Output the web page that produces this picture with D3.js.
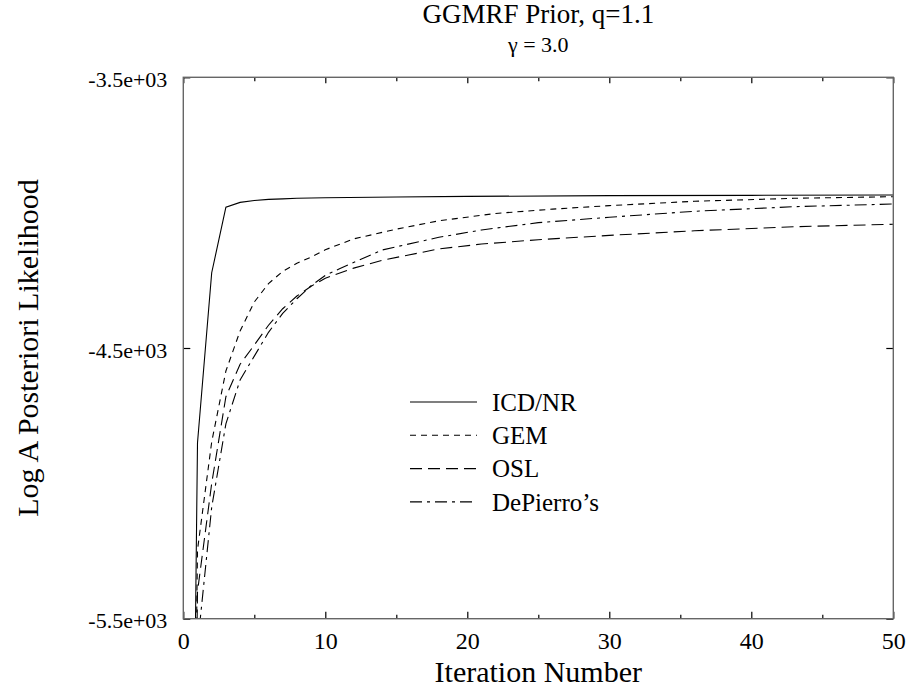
<!DOCTYPE html>
<html>
<head>
<meta charset="utf-8">
<script src="https://cdn.jsdelivr.net/npm/d3@7"></script>
<style>
  body { margin: 0; background: #fff; }
  svg text { font-family: "Liberation Serif", "Times New Roman", Times, serif; fill: #000; }
</style>
</head>
<body>
<svg id="chart"></svg>
<script>
// data (iteration, log posterior likelihood)
const icdIter   = [0, 1, 2, 3, 4, 5, 6, 7, 8, 10, 15, 20, 30, 40, 50];
const icdVal    = [-9500, -4850, -4222, -3980, -3962, -3955, -3951, -3949, -3947, -3945, -3942, -3940, -3937, -3936, -3935];

const gemIter   = [0, 1, 2, 3, 4, 5, 6, 7, 8, 9, 10, 12, 15, 18, 22, 26, 30, 36, 43, 50];
const gemVal    = [-9500, -5246, -4847, -4585, -4437, -4330, -4262, -4217, -4187, -4164, -4137, -4097, -4061, -4030, -4003, -3987, -3974, -3958, -3947, -3941];

const oslIter   = [0, 1, 2, 3, 4, 5, 6, 7, 8, 9, 10, 12, 14, 18, 21, 25, 30, 36, 43, 50];
const oslVal    = [-9500, -5400, -5000, -4680, -4560, -4489, -4416, -4355, -4308, -4272, -4242, -4205, -4176, -4134, -4116, -4100, -4084, -4067, -4052, -4043];

const depIter   = [0, 1, 2, 3, 4, 5, 6, 7, 8, 9, 10, 11, 14, 18, 21, 25, 30, 36, 43, 50];
const depVal    = [-9500, -5600, -5088, -4780, -4618, -4530, -4442, -4372, -4318, -4270, -4232, -4207, -4138, -4091, -4064, -4037, -4017, -3995, -3978, -3968];

const seriesNames = ["ICD/NR", "GEM", "OSL", "DePierro\u2019s"];
const xMajorTicks = [0, 10, 20, 30, 40, 50];
const xMinorTicks = [5, 15, 25, 35, 45];
const yTicks      = [-5500, -4500, -3500];
const yTickLabels = ["-5.5e+03", "-4.5e+03", "-3.5e+03"];

const W = 908, H = 692;
const margin = {left: 183.3, top: 77.3, right: 14.7, bottom: 73.3};
const iw = W - margin.left - margin.right;
const ih = H - margin.top - margin.bottom;

const svg = d3.select('#chart').attr('width', W).attr('height', H);

const x = d3.scaleLinear().domain([0, 50]).range([0, iw]);
const y = d3.scaleLinear().domain([-5500, -3500]).range([ih, 0]);

const g = svg.append('g').attr('transform', `translate(${margin.left},${margin.top})`);

g.append('clipPath').attr('id', 'clip')
  .append('rect').attr('width', iw).attr('height', ih);

const dashes = ["none", "6,5", "12,6", "12,5,3,5"];
const series = [
  {name: seriesNames[0], xs: icdIter, ys: icdVal, dash: dashes[0]},
  {name: seriesNames[1], xs: gemIter, ys: gemVal, dash: dashes[1]},
  {name: seriesNames[2], xs: oslIter, ys: oslVal, dash: dashes[2]},
  {name: seriesNames[3], xs: depIter, ys: depVal, dash: dashes[3]},
];

const line = d3.line()
  .x(d => x(d[0]))
  .y(d => y(d[1]));

g.append('g').attr('clip-path', 'url(#clip)')
  .selectAll('path')
  .data(series)
  .join('path')
    .attr('d', s => line(d3.zip(s.xs, s.ys)))
    .attr('fill', 'none')
    .attr('stroke', '#000')
    .attr('stroke-width', 1.1)
    .attr('stroke-dasharray', s => s.dash);

// axes, ticks pointing inward
function styleAxis(sel) {
  sel.select('.domain').remove();
  sel.selectAll('.tick line').attr('stroke', '#000').attr('stroke-width', 1.2);
}

const fmtY = v => yTickLabels[yTicks.indexOf(v)];

g.append('g').attr('transform', `translate(0,${ih})`)
  .call(d3.axisBottom(x).tickValues(xMajorTicks).tickSize(-7).tickPadding(13))
  .call(styleAxis)
  .selectAll('text').attr('font-size', 24)
  .attr('dy', '0.71em');

g.append('g').attr('transform', `translate(0,${ih})`)
  .call(d3.axisBottom(x).tickValues(xMinorTicks).tickSize(-4).tickFormat(''))
  .call(styleAxis);

g.append('g')
  .call(d3.axisTop(x).tickValues(xMajorTicks).tickSize(-6).tickFormat(''))
  .call(styleAxis);

g.append('g')
  .call(d3.axisTop(x).tickValues(xMinorTicks).tickSize(-4).tickFormat(''))
  .call(styleAxis);

g.append('g')
  .call(d3.axisLeft(y).tickValues(yTicks).tickSize(-7).tickPadding(16).tickFormat(fmtY))
  .call(styleAxis)
  .selectAll('text').attr('font-size', 22).attr('dy', '0.42em');

g.append('g').attr('transform', `translate(${iw},0)`)
  .call(d3.axisRight(y).tickValues(yTicks).tickSize(-7).tickFormat(''))
  .call(styleAxis);

// frame
g.append('rect')
  .attr('width', iw).attr('height', ih)
  .attr('fill', 'none')
  .attr('stroke', '#666')
  .attr('stroke-width', 1.4);

// titles
svg.append('text')
  .attr('x', margin.left + iw / 2).attr('y', 23)
  .attr('text-anchor', 'middle')
  .attr('font-size', 27)
  .text('GGMRF Prior, q=1.1');

svg.append('text')
  .attr('x', margin.left + iw / 2).attr('y', 52)
  .attr('text-anchor', 'middle')
  .attr('font-size', 22)
  .text('\u03b3 = 3.0');

svg.append('text')
  .attr('x', margin.left + iw / 2).attr('y', 682)
  .attr('text-anchor', 'middle')
  .attr('font-size', 30)
  .text('Iteration Number');

svg.append('text')
  .attr('transform', `translate(38,${margin.top + ih / 2}) rotate(-90)`)
  .attr('text-anchor', 'middle')
  .attr('font-size', 30)
  .text('Log A Posteriori Likelihood');

// legend
const legend = svg.append('g').attr('transform', 'translate(410,402)');
const rowH = 33.3;
const item = legend.selectAll('g')
  .data(series)
  .join('g')
    .attr('transform', (d, i) => `translate(0,${i * rowH})`);

item.append('line')
  .attr('x1', 0).attr('x2', 67)
  .attr('stroke', '#000')
  .attr('stroke-width', 1.1)
  .attr('stroke-dasharray', d => d.dash);

item.append('text')
  .attr('x', 82).attr('y', 0)
  .attr('dy', '0.35em')
  .attr('font-size', 25)
  .text(d => d.name);
</script>
</body>
</html>
